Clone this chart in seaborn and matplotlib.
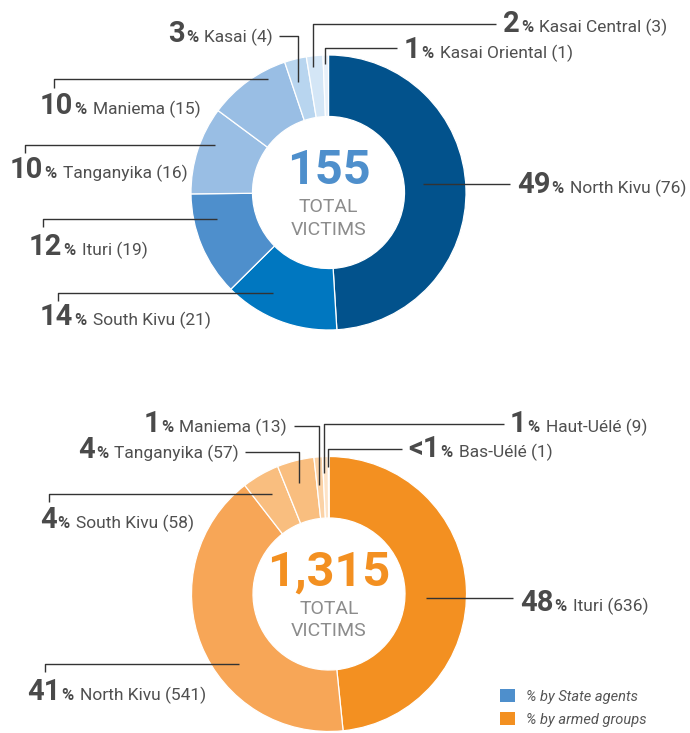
import matplotlib
matplotlib.use("Agg")
import matplotlib.pyplot as plt
from matplotlib.patches import Patch
import seaborn as sns

sns.set_theme(style="white")
plt.rcParams["font.family"] = ["Roboto", "DejaVu Sans"]

W, H = 690, 733

# --- data ---
top_regions = ["North Kivu", "South Kivu", "Ituri", "Tanganyika", "Maniema",
               "Kasai", "Kasai Central", "Kasai Oriental"]
top_counts = [76, 21, 19, 16, 15, 4, 3, 1]
top_pcts = ["49", "14", "12", "10", "10", "3", "2", "1"]
top_total = "155"

bot_regions = ["Ituri", "North Kivu", "South Kivu", "Tanganyika", "Maniema",
               "Haut-Uélé", "Bas-Uélé"]
bot_counts = [636, 541, 58, 57, 13, 9, 1]
bot_pcts = ["48", "41", "4", "4", "1", "1", "<1"]
bot_total = "1,315"

legend_labels = ["% by State agents", "% by armed groups"]

# --- styles ---
top_colors = sns.color_palette(["#02528C", "#0077C0", "#4E8FCC", "#99BEE4",
                                "#99BEE4", "#B8D5EF", "#D4E6F6", "#E8F1FA"])
bot_colors = sns.color_palette(["#F39021", "#F7A657", "#F9BE7F", "#F9BE7F",
                                "#FBD2A6", "#FDE3C7", "#FEEFDE"])
blue, orange = "#4E8FCC", "#F39021"
txt_dark = "#4A4A4A"
line_col = "#333333"

# label layout in pixel coords: (align, x, baseline, leader polyline)
top_layout = [
    ("left", 517, 193, [(423, 184), (510, 184)]),
    ("left", 40, 325, [(58, 301), (58, 293), (273, 293)]),
    ("left", 29, 255, [(43, 227), (43, 219), (217, 219)]),
    ("left", 10, 178, [(25, 153), (25, 145), (215, 145)]),
    ("left", 40, 114, [(54, 88), (54, 79), (268, 79)]),
    ("right", 273, 42, [(279, 36), (298, 36), (298, 82)]),
    ("left", 503, 32, [(496, 24), (313, 24), (313, 67)]),
    ("left", 404, 58, [(397, 48), (325, 48), (325, 64)]),
]
bot_layout = [
    ("left", 520, 611, [(426, 598), (513, 598)]),
    ("left", 27, 700, [(45, 672), (45, 664), (239, 664)]),
    ("left", 40, 528, [(49, 502), (49, 494), (272, 494)]),
    ("right", 239, 458, [(245, 452), (299, 452), (299, 483)]),
    ("right", 287, 432, [(294, 426), (319, 426), (319, 485)]),
    ("left", 510, 432, [(504, 424), (324, 424), (324, 473)]),
    ("left", 408, 457, [(402, 449), (328, 449), (328, 467)]),
]

fig = plt.figure(figsize=(W / 100, H / 100), dpi=100)
ax = fig.add_axes([0, 0, 1, 1])
renderer = fig.canvas.get_renderer()


def rich_label(align, x, y, pieces):
    arts = []
    for txt, size, weight, col, gap in pieces:
        arts.append((ax.text(0, H - y, txt, fontsize=size, fontweight=weight,
                             color=col, ha="left", va="baseline"), gap))
    widths = [a.get_window_extent(renderer).width + g for a, g in arts]
    cur = x if align == "left" else x - sum(widths)
    for (a, g), w in zip(arts, widths):
        a.set_x(cur + g)
        cur += w


def donut(counts, colors, regions, pcts, layout, cx, cy, total, total_col):
    ax.pie(counts, colors=colors, center=(cx, H - cy), radius=137.5,
           startangle=90, counterclock=False, frame=True,
           wedgeprops=dict(width=61.5, edgecolor="white", linewidth=0.9))
    for name, n, p, (align, x, y, pts) in zip(regions, counts, pcts, layout):
        xs = [q[0] for q in pts]
        ys = [H - q[1] for q in pts]
        ax.plot(xs, ys, color=line_col, lw=1.0, solid_capstyle="butt")
        rich_label(align, x, y, [(p, 21, "bold", txt_dark, 0),
                                 ("%", 12, "bold", txt_dark, 1),
                                 (f"{name} ({n})", 12.5, "normal", "#505050", 6)])
    ax.text(cx, H - (cy - 8.5), total, ha="center", va="baseline",
            fontsize=35, fontweight="bold", color=total_col)
    ax.text(cx, H - (cy + 19.5), "TOTAL", ha="center", va="baseline",
            fontsize=14, fontweight="normal", color="#8C8C8C")
    ax.text(cx, H - (cy + 42.5), "VICTIMS", ha="center", va="baseline",
            fontsize=14, fontweight="normal", color="#8C8C8C")


donut(top_counts, top_colors, top_regions, top_pcts, top_layout,
      328.5, 192.5, top_total, blue)
donut(bot_counts, bot_colors, bot_regions, bot_pcts, bot_layout,
      329, 594, bot_total, orange)

handles = [Patch(facecolor=c, edgecolor="none", label=l)
           for c, l in zip([blue, orange], legend_labels)]
ax.legend(handles=handles, loc="upper left",
          bbox_to_anchor=(500 / W, 1 - 689 / H), frameon=False,
          prop=dict(style="italic", size=10.5, family="Roboto"),
          labelcolor="#555555", handlelength=1.0, handleheight=1.0,
          handletextpad=0.75, labelspacing=0.6, borderpad=0, borderaxespad=0)

ax.set_xlim(0, W)
ax.set_ylim(0, H)
ax.axis("off")
fig.savefig("out.png", dpi=100, facecolor="white")
